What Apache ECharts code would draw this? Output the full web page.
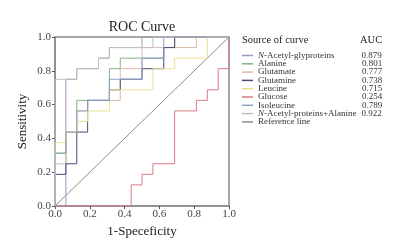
<!DOCTYPE html>
<html>
<head>
    <meta charset="UTF-8">
    <title>ROC Curve</title>
    <script type="text/javascript" src="https://cdn.jsdelivr.net/npm/echarts@6/dist/echarts.min.js"></script>
</head>
<body style="margin: 0;overflow: hidden;background: #fff;">
<div id="chart" style="width: 407px;height: 243px"></div>
<script type="text/javascript">
    // curve names, AUC values, colours
    var curveNames = ['N-Acetyl-glyproteins', 'Alanine', 'Glutamate', 'Glutamine', 'Leucine',
        'Glucose', 'Isoleucine', 'N-Acetyl-proteins+Alanine', 'Reference line'];
    var aucValues = ['0.879', '0.801', '0.777', '0.738', '0.715', '0.254', '0.789', '0.922', ''];
    var colors = ['#a396b8', '#84b084', '#dcbaab', '#524676', '#e8df90', '#db7a86', '#88a2c4', '#c0c0c0', '#8c8c8c'];

    // 1-specificity (x) / sensitivity (y) of each step
    var nagX = [0, 0.0625, 0.0625, 0.125, 0.125, 0.25, 0.25, 0.3125, 0.3125, 0.5, 0.5, 1];
    var nagY = [0, 0, 0.75, 0.75, 0.8125, 0.8125, 0.875, 0.875, 0.9375, 0.9375, 1, 1];
    var alaX = [0, 0, 0.0625, 0.0625, 0.125, 0.125, 0.3125, 0.3125, 0.375, 0.375, 0.625, 0.625, 0.6875, 0.6875, 1];
    var alaY = [0, 0.3125, 0.3125, 0.4375, 0.4375, 0.625, 0.625, 0.8125, 0.8125, 0.875, 0.875, 0.9375, 0.9375, 1, 1];
    var gluX = [0, 0, 0.0625, 0.0625, 0.125, 0.125, 0.1875, 0.1875, 0.375, 0.375, 0.5, 0.5, 0.8125, 0.8125, 1];
    var gluY = [0, 0.25, 0.25, 0.4375, 0.4375, 0.5625, 0.5625, 0.625, 0.625, 0.8125, 0.8125, 0.9375, 0.9375, 1, 1];
    var glnX = [0, 0, 0.0625, 0.0625, 0.125, 0.125, 0.1875, 0.1875, 0.3125, 0.3125, 0.375, 0.375, 0.5, 0.5, 0.625, 0.625, 0.6875, 0.6875, 1];
    var glnY = [0, 0.1875, 0.1875, 0.25, 0.25, 0.4375, 0.4375, 0.625, 0.625, 0.6875, 0.6875, 0.75, 0.75, 0.8125, 0.8125, 0.9375, 0.9375, 1, 1];
    var leuX = [0, 0, 0.0625, 0.0625, 0.125, 0.125, 0.1875, 0.1875, 0.3125, 0.3125, 0.5625, 0.5625, 0.6875, 0.6875, 0.875, 0.875, 1];
    var leuY = [0, 0.375, 0.375, 0.4375, 0.4375, 0.5, 0.5, 0.5625, 0.5625, 0.6875, 0.6875, 0.8125, 0.8125, 0.875, 0.875, 1, 1];
    var glcX = [0, 0.4375, 0.4375, 0.5, 0.5, 0.5625, 0.5625, 0.6875, 0.6875, 0.8125, 0.8125, 0.875, 0.875, 0.9375, 0.9375, 1, 1];
    var glcY = [0, 0, 0.125, 0.125, 0.1875, 0.1875, 0.25, 0.25, 0.5625, 0.5625, 0.625, 0.625, 0.6875, 0.6875, 0.8125, 0.8125, 1];
    var ileX = [0, 0, 0.0625, 0.0625, 0.125, 0.125, 0.1875, 0.1875, 0.3125, 0.3125, 0.5, 0.5, 0.625, 0.625, 1];
    var ileY = [0, 0.3125, 0.3125, 0.4375, 0.4375, 0.5625, 0.5625, 0.625, 0.625, 0.75, 0.75, 0.875, 0.875, 1, 1];
    var combX = [0, 0, 0.125, 0.125, 0.25, 0.25, 0.3125, 0.3125, 0.5625, 0.5625, 1];
    var combY = [0, 0.75, 0.75, 0.8125, 0.8125, 0.875, 0.875, 0.9375, 0.9375, 1, 1];
    var refX = [0, 1];
    var refY = [0, 1];

    var xTicks = ['0.0', '0.2', '0.4', '0.6', '0.8', '1.0'];

    var curvesX = [nagX, alaX, gluX, glnX, leuX, glcX, ileX, combX, refX];
    var curvesY = [nagY, alaY, gluY, glnY, leuY, glcY, ileY, combY, refY];

    var font = 'Liberation Serif';

    function pairs(xs, ys) {
        var out = [];
        for (var i = 0; i < xs.length; i++) {
            out.push([xs[i], ys[i]]);
        }
        return out;
    }

    var series = [];
    for (var i = 0; i < curveNames.length; i++) {
        series.push({
            name: curveNames[i],
            type: 'line',
            data: pairs(curvesX[i], curvesY[i]),
            showSymbol: false,
            silent: true,
            color: colors[i],
            lineStyle: {width: 1, color: colors[i]},
            z: i == 8 ? 1 : 2
        });
    }

    var chart = echarts.init(document.getElementById('chart'));
    chart.setOption({
        animation: false,
        backgroundColor: '#fff',
        grid: {
            left: 55, right: 178, top: 37, bottom: 34,
            show: true, borderColor: '#8a8a8a', borderWidth: 1.5
        },
        graphic: [
            {type: 'text', x: 142, y: 27, style: {text: 'ROC Curve', font: '14px "' + font + '"', fill: '#222', textAlign: 'center', textVerticalAlign: 'middle'}},
            {type: 'text', x: 242, y: 40, style: {text: 'Source of curve', font: '10.5px "' + font + '"', fill: '#222', textVerticalAlign: 'middle'}},
            {type: 'text', x: 360, y: 40, style: {text: 'AUC', font: '10.5px "' + font + '"', fill: '#222', textVerticalAlign: 'middle'}}
        ],
        legend: {
            orient: 'vertical',
            left: 242, top: 51,
            padding: 0,
            itemGap: -0.7,
            itemWidth: 11,
            itemHeight: 1.5,
            icon: 'rect',
            selectedMode: false,
            data: curveNames,
            formatter: function (name) {
                var idx = curveNames.indexOf(name);
                var auc = aucValues[idx];
                if (name.indexOf('N-') === 0) {
                    return '{i|N}{m|' + name.slice(1) + '}{a|' + auc + '}';
                }
                return '{n|' + name + '}{a|' + auc + '}';
            },
            textStyle: {
                fontFamily: font, fontSize: 9, color: '#333',
                rich: {
                    i: {fontFamily: font, fontSize: 9, fontStyle: 'italic', color: '#333'},
                    m: {fontFamily: font, fontSize: 9, width: 97.5, color: '#333'},
                    n: {fontFamily: font, fontSize: 9, width: 104, color: '#333'},
                    a: {fontFamily: font, fontSize: 9, color: '#333'}
                }
            }
        },
        xAxis: {
            type: 'value', min: 0, max: 1, interval: 0.2,
            name: '1-Speceficity', nameLocation: 'middle', nameGap: 19,
            nameTextStyle: {fontFamily: font, fontSize: 13, color: '#222'},
            axisLine: {lineStyle: {color: '#8a8a8a', width: 1.5}},
            axisTick: {length: 3, lineStyle: {color: '#555'}},
            axisLabel: {
                margin: 3, fontFamily: font, fontSize: 11, color: '#444',
                formatter: function (v) { return xTicks[Math.round(v * 5)]; }
            },
            splitLine: {show: false}
        },
        yAxis: {
            type: 'value', min: 0, max: 1, interval: 0.2,
            name: 'Sensitivity', nameLocation: 'middle', nameGap: 26,
            nameTextStyle: {fontFamily: font, fontSize: 13, color: '#222'},
            axisLine: {show: true, lineStyle: {color: '#8a8a8a', width: 1.5}},
            axisTick: {show: true, length: 3, lineStyle: {color: '#555'}},
            axisLabel: {
                margin: 4, fontFamily: font, fontSize: 11, color: '#444',
                formatter: function (v) { return xTicks[Math.round(v * 5)]; }
            },
            splitLine: {show: false}
        },
        series: series
    });
</script>
</body>
</html>
